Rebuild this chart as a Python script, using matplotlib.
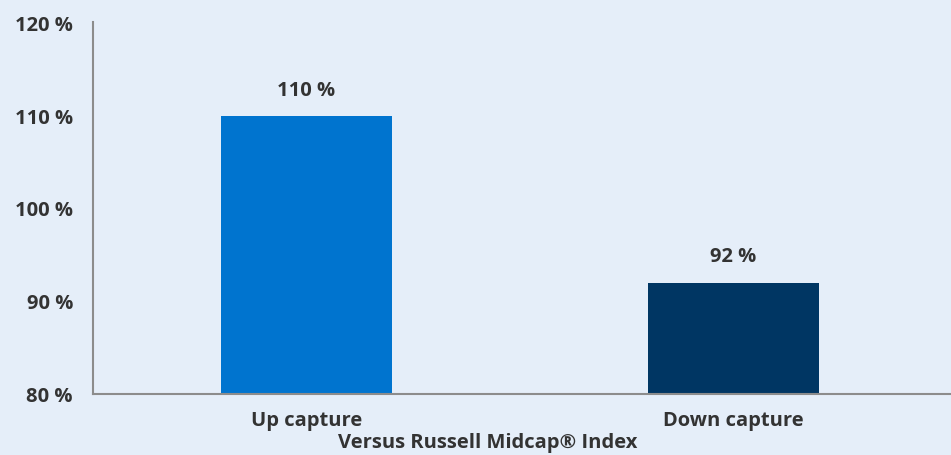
import matplotlib.pyplot as plt

categories = ['Up capture', 'Down capture']
values = [110, 92]
value_labels = ['110 %', '92 %']
colors = ['#0074cf', '#003663']
yticks = [80, 90, 100, 110, 120]

bg = '#e5eef9'
text_color = '#333333'
fs = 14.5
plt.rcParams['font.family'] = ['Open Sans', 'DejaVu Sans']

fig = plt.figure(figsize=(9.51, 4.55), dpi=100, facecolor=bg)
ax = fig.add_axes([93 / 951, 1 - 394 / 455, 1 - 93 / 951, (394 - 22) / 455])
ax.set_facecolor(bg)

x = range(len(categories))
ax.bar(x, values, width=0.4, color=colors, bottom=0)
ax.set_xlim(-0.5, 1.509)
ax.set_ylim(80, 120.2)

for xi, v, lab in zip(x, values, value_labels):
    ax.text(xi, v + 1.7, lab, ha='center', va='bottom', fontsize=fs,
            fontweight='bold', color=text_color)

ax.set_yticks(yticks)
ax.set_yticklabels([f'{t} %' for t in yticks], fontsize=fs,
                   fontweight='bold', color=text_color)
ax.set_xticks(list(x))
ax.set_xticklabels(categories, fontsize=fs, fontweight='bold', color=text_color)
ax.tick_params(axis='both', length=0)
ax.tick_params(axis='y', pad=14.4)
ax.tick_params(axis='x', pad=12.5)

for s in ['top', 'right']:
    ax.spines[s].set_visible(False)
for s in ['left', 'bottom']:
    ax.spines[s].set_color('#8c8c8c')
    ax.spines[s].set_linewidth(1.5)

fig.text(487.5 / 951, 1 - 443 / 455, 'Versus Russell Midcap® Index', ha='center',
         va='center', fontsize=fs, fontweight='bold', color=text_color)

fig.savefig('out.png', dpi=100, facecolor=bg)
